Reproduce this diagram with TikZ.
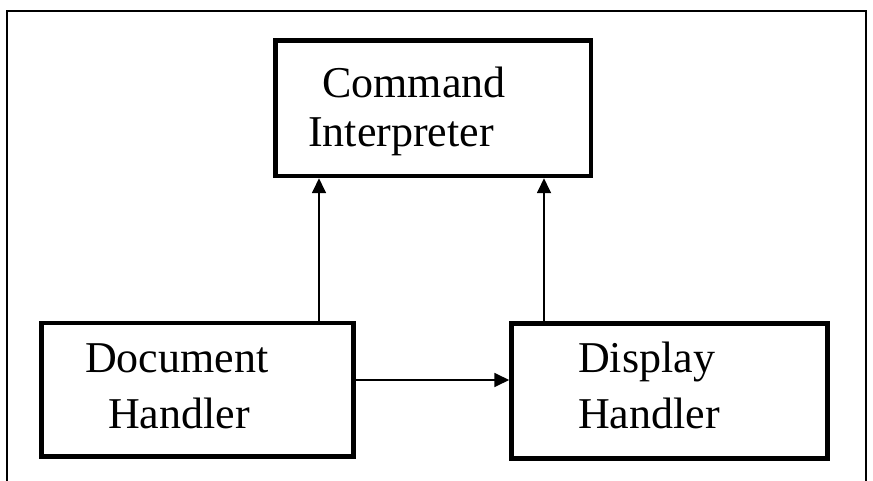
\documentclass[tikz,border=0pt]{standalone}
\usepackage{fontspec}
\setmainfont{Liberation Serif}
\usetikzlibrary{arrows.meta}
\begin{document}
\begin{tikzpicture}[x=1bp,y=-1bp,
  box/.style={draw,rectangle,line width=4.5bp,inner sep=0pt},
  lbl/.style={anchor=base west,inner sep=0pt,font=\fontsize{44bp}{48bp}\selectfont},
  arr/.style={line width=1.8bp,-{Triangle[length=15bp,width=14bp]}},
  frame/.style={line width=2bp,line cap=butt}]
\useasboundingbox (0,0) rectangle (873,481);
% outer frame (open at bottom)
\draw[frame] (7,481) -- (7,11) -- (866,11) -- (866,481);
% boxes
\node[box,minimum width=315.5bp,minimum height=135.5bp] (cmd) at (433.25,108.25) {};
\node[box,minimum width=312bp,minimum height=133.5bp] (doc) at (197.5,389.75) {};
\node[box,minimum width=316bp,minimum height=135bp] (disp) at (669.5,391) {};
% labels
\node[lbl] (cmdA) at (322,98) {Command};
\node[lbl] (cmdB) at (308,147) {Interpreter};
\node[lbl] (docA) at (85,372) {Document};
\node[lbl] (docB) at (108,428) {Handler};
\node[lbl] (dispA) at (578,372) {Display};
\node[lbl] (dispB) at (578,428) {Handler};
% connectors
\coordinate (xa) at (319,0);
\coordinate (xb) at (544,0);
\coordinate (yh) at (0,380);
\draw[arr] (xa |- doc.north) -- (xa |- cmd.south);
\draw[arr] (xb |- disp.north) -- (xb |- cmd.south);
\draw[arr] (doc.east |- yh) -- (disp.west |- yh);
\end{tikzpicture}
\end{document}
